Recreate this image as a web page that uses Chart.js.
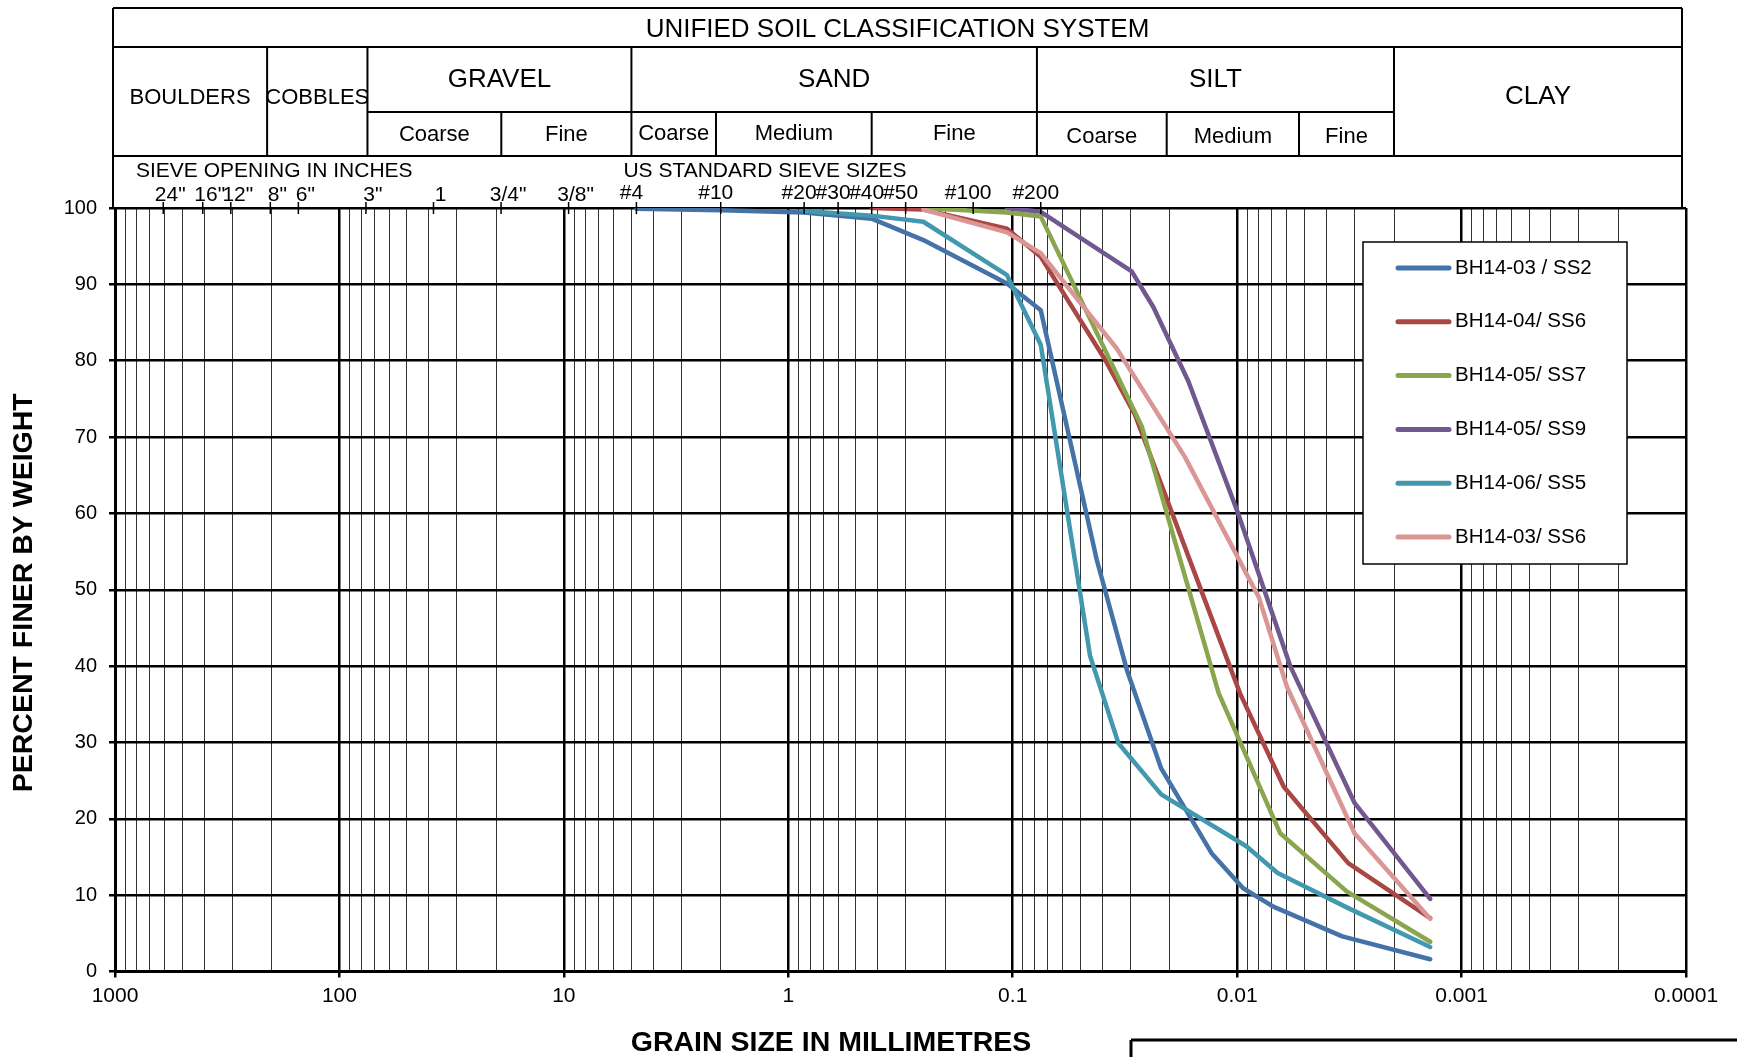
<!DOCTYPE html>
<html>
<head>
<meta charset="utf-8">
<title>Grain Size Distribution</title>
<script src="https://cdn.jsdelivr.net/npm/chart.js@4.4.1/dist/chart.umd.min.js"></script>
<style>
    html, body { margin: 0; padding: 0; background: #fff; }
    #caja { width: 1737px; height: 1057px; }
</style>
</head>
<body>
<div id="caja"><canvas id="grafica" width="1737" height="1057"></canvas></div>
<script>
let ss2Size = [4.75, 2.0, 0.85, 0.425, 0.25, 0.106, 0.075, 0.0422, 0.031, 0.0218, 0.013, 0.0094, 0.0069, 0.0034, 0.00138];
let ss2Pct  = [99.9, 99.7, 99.4, 98.6, 95.8, 90.1, 86.6, 53.9, 39.5, 26.6, 15.5, 10.9, 8.5, 4.6, 1.6];

let bh04ss6Size = [0.425, 0.25, 0.106, 0.075, 0.0387, 0.0285, 0.0097, 0.0062, 0.0032, 0.00138];
let bh04ss6Pct  = [100, 99.8, 97.3, 93.6, 80.1, 72.9, 36.4, 24.2, 14.2, 7.0];

let ss7Size = [0.25, 0.106, 0.075, 0.0266, 0.0121, 0.00643, 0.00325, 0.00138];
let ss7Pct  = [100, 99.4, 98.9, 71.4, 36.5, 18.1, 10.5, 3.9];

let ss9Size = [0.106, 0.075, 0.0295, 0.0236, 0.0165, 0.0099, 0.0058, 0.0030, 0.00138];
let ss9Pct  = [100, 99.5, 91.7, 87.0, 77.3, 60.0, 40.0, 22.1, 9.5];

let ss5Size = [0.85, 0.425, 0.25, 0.106, 0.075, 0.0452, 0.0338, 0.0218, 0.0091, 0.0066, 0.00325, 0.00138];
let ss5Pct  = [99.6, 99.0, 98.2, 91.2, 82.1, 41.3, 29.9, 23.2, 16.4, 12.9, 8.4, 3.2];

let bh03ss6Size = [0.25, 0.106, 0.075, 0.0344, 0.0171, 0.0080, 0.0060, 0.0030, 0.00138];
let bh03ss6Pct  = [99.8, 96.8, 94.1, 81.6, 67.4, 49.0, 37.3, 18.1, 6.9];

let seriesNames  = ['BH14-03 / SS2', 'BH14-04/ SS6', 'BH14-05/ SS7', 'BH14-05/ SS9', 'BH14-06/ SS5', 'BH14-03/ SS6'];
let seriesColors = ['#4572a7', '#aa4643', '#89a54e', '#71588f', '#4198af', '#d99694'];

// axis ticks
let decadeTicks  = [1000, 100, 10, 1, 0.1, 0.01, 0.001, 0.0001];
let decadeLabels = ['1000', '100', '10', '1', '0.1', '0.01', '0.001', '0.0001'];

// sieve openings (mm) shown above the plot
let inchSizes  = [609.6, 406.4, 304.8, 203.2, 152.4, 76.2, 38.1, 19.05, 9.525];
let inchLabels = ['24"', '16"', '12"', '8"', '6"', '3"', '1', '3/4"', '3/8"'];
let sieveSizes  = [4.75, 2.0, 0.85, 0.6, 0.425, 0.3, 0.15, 0.075];
let sieveLabels = ['#4', '#10', '#20', '#30', '#40', '#50', '#100', '#200'];

// USCS classification boundaries (mm), as drawn on the form
let groupNames = ['BOULDERS', 'COBBLES', 'GRAVEL', 'SAND', 'SILT', 'CLAY'];
let groupEdges = [210, 75, 5.0, 0.078, 0.002];
let gravelSubs = ['Coarse', 'Fine'];
let gravelSubEdges = [19];
let sandSubs = ['Coarse', 'Medium', 'Fine'];
let sandSubEdges = [2.1, 0.425];
let siltSubs = ['Coarse', 'Medium', 'Fine'];
let siltSubEdges = [0.0206, 0.0053];

const FUENTE = "'Liberation Sans', Arial, sans-serif";

function juntar(sizes, pcts) {
    return sizes.map((s, i) => ({ x: s, y: pcts[i] }));
}

let series = [
    juntar(ss2Size, ss2Pct),
    juntar(bh04ss6Size, bh04ss6Pct),
    juntar(ss7Size, ss7Pct),
    juntar(ss9Size, ss9Pct),
    juntar(ss5Size, ss5Pct),
    juntar(bh03ss6Size, bh03ss6Pct)
];

function esDecada(v) {
    let l = Math.log10(v);
    return Math.abs(l - Math.round(l)) < 1e-6;
}

// every 1..9 x 10^n line between 0.0001 and 1000
function lineasLog() {
    let out = [];
    for (let e = -4; e <= 3; e++) {
        for (let m = 1; m <= 9; m++) {
            let v = m * Math.pow(10, e);
            if (v > 1000.0001) break;
            out.push({ value: v });
        }
    }
    return out;
}

function linea(ctx, x1, y1, x2, y2) {
    ctx.beginPath();
    ctx.moveTo(x1, y1);
    ctx.lineTo(x2, y2);
    ctx.stroke();
}

function texto(ctx, t, x, y, size, align, bold) {
    ctx.font = (bold ? 'bold ' : '') + size + 'px ' + FUENTE;
    ctx.textAlign = align || 'center';
    ctx.textBaseline = 'middle';
    ctx.fillText(t, x, y);
}

const encabezado = {
    id: 'encabezado',
    afterDraw(chart) {
        const ctx = chart.ctx;
        const area = chart.chartArea;
        const px = v => chart.scales.x.getPixelForValue(v);
        const L = area.left - 2, R = area.right - 4;
        const yTop = 8, yTitle = 47, ySub = 112, yHead = 156;

        ctx.save();
        ctx.strokeStyle = '#000';
        ctx.fillStyle = '#000';
        ctx.lineWidth = 2;

        // table frame
        linea(ctx, L, yTop, R, yTop);
        linea(ctx, L, yTop, L, area.top);
        linea(ctx, R, yTop, R, area.top);
        linea(ctx, L, yTitle, R, yTitle);
        linea(ctx, L, yHead, R, yHead);
        groupEdges.forEach(e => linea(ctx, px(e), yTitle, px(e), yHead));
        linea(ctx, px(75), ySub, px(0.002), ySub);
        gravelSubEdges.concat(sandSubEdges, siltSubEdges).forEach(e => linea(ctx, px(e), ySub, px(e), yHead));

        texto(ctx, 'UNIFIED SOIL CLASSIFICATION SYSTEM', (L + R) / 2, 30, 26);

        let bordes = [L].concat(groupEdges.map(px), [R]);
        groupNames.forEach((g, i) => {
            let cx = (bordes[i] + bordes[i + 1]) / 2;
            if (g === 'GRAVEL' || g === 'SAND' || g === 'SILT') {
                texto(ctx, g, cx, 80, 26);
            } else if (g === 'CLAY') {
                texto(ctx, g, cx, 97, 26);
            } else {
                texto(ctx, g, cx, 98, 22);
            }
        });

        function subRow(names, from, edges, to, y) {
            let b = [px(from)].concat(edges.map(px), [px(to)]);
            names.forEach((n, i) => texto(ctx, n, (b[i] + b[i + 1]) / 2, y, 22));
        }
        subRow(gravelSubs, 75, gravelSubEdges, 5.0, 135);
        subRow(sandSubs, 5.0, sandSubEdges, 0.078, 134);
        subRow(siltSubs, 0.078, siltSubEdges, 0.002, 137);

        // sieve row
        texto(ctx, 'SIEVE OPENING IN INCHES', 136, 171, 21, 'left');
        texto(ctx, 'US STANDARD SIEVE SIZES', px(4.75) - 13, 171, 21, 'left');
        ctx.lineWidth = 1.5;
        inchSizes.forEach((s, i) => {
            let x = px(s);
            linea(ctx, x, area.top - 6, x, area.top + 6);
            texto(ctx, inchLabels[i], x + 7, 195, 21);
        });
        sieveSizes.forEach((s, i) => {
            let x = px(s);
            linea(ctx, x, area.top - 6, x, area.top + 6);
            texto(ctx, sieveLabels[i], x - 5, 193, 21);
        });

        // axis titles
        texto(ctx, 'GRAIN SIZE IN MILLIMETRES', 831, 1043, 28.5, 'center', true);
        ctx.save();
        ctx.translate(24, (area.top + area.bottom) / 2 + 3);
        ctx.rotate(-Math.PI / 2);
        texto(ctx, 'PERCENT FINER BY WEIGHT', 0, 0, 28.5, 'center', true);
        ctx.restore();

        // legend
        const lx = 1363, ly = 242, lw = 264, lh = 322;
        ctx.fillStyle = '#fff';
        ctx.fillRect(lx, ly, lw, lh);
        ctx.lineWidth = 1.5;
        ctx.strokeRect(lx, ly, lw, lh);
        chart.data.datasets.forEach((d, i) => {
            let y = 268 + i * 53.8;
            ctx.strokeStyle = d.borderColor;
            ctx.lineWidth = 5;
            ctx.lineCap = 'round';
            linea(ctx, 1398, y, 1449, y);
            ctx.fillStyle = '#000';
            texto(ctx, d.label, 1455, y, 20.5, 'left');
        });

        // edge of the box below the chart
        ctx.strokeStyle = '#000';
        ctx.lineWidth = 3;
        ctx.lineCap = 'butt';
        linea(ctx, 1131, 1040, 1737, 1040);
        linea(ctx, 1131, 1040, 1131, 1057);
        ctx.restore();
    }
};

let miGrafica = new Chart(document.getElementById('grafica').getContext('2d'), {
    type: 'line',
    data: {
        datasets: series.map((pts, i) => ({
            label: seriesNames[i],
            data: pts,
            borderColor: seriesColors[i],
            backgroundColor: seriesColors[i],
            borderWidth: 4.5,
            pointRadius: 0,
            tension: 0,
            fill: false,
            borderCapStyle: 'round',
            borderJoinStyle: 'round',
            order: series.length - i
        }))
    },
    options: {
        responsive: false,
        animation: false,
        devicePixelRatio: 1,
        layout: { padding: { left: 0, top: 208, right: 51, bottom: 0 } },
        plugins: {
            legend: { display: false },
            tooltip: { enabled: false }
        },
        scales: {
            x: {
                type: 'logarithmic',
                position: 'bottom',
                reverse: true,
                min: 0.0001,
                max: 1000,
                afterBuildTicks: s => { s.ticks = lineasLog(); },
                afterFit: s => { s.height = 85.5; },
                ticks: {
                    autoSkip: false,
                    maxRotation: 0,
                    padding: 6,
                    color: '#000',
                    font: { family: FUENTE, size: 21 },
                    callback: v => {
                        let i = decadeTicks.findIndex(d => Math.abs(d - v) / d < 1e-6);
                        return i >= 0 ? decadeLabels[i] : '';
                    }
                },
                grid: {
                    color: c => (c.tick && esDecada(c.tick.value)) ? '#000' : '#333',
                    lineWidth: c => (c.tick && esDecada(c.tick.value)) ? 2.5 : 1,
                    tickColor: c => (c.tick && esDecada(c.tick.value)) ? '#000' : 'rgba(0,0,0,0)',
                    tickLength: 6
                },
                border: { display: true, color: '#000', width: 3 }
            },
            y: {
                type: 'linear',
                min: 0,
                max: 100,
                afterFit: s => { s.width = 115; },
                ticks: {
                    stepSize: 10,
                    padding: 12,
                    color: '#000',
                    font: { family: FUENTE, size: 20 }
                },
                grid: { color: '#000', lineWidth: 2.5, tickLength: 6 },
                border: { display: true, color: '#000', width: 3 }
            }
        }
    },
    plugins: [encabezado]
});
</script>
</body>
</html>
